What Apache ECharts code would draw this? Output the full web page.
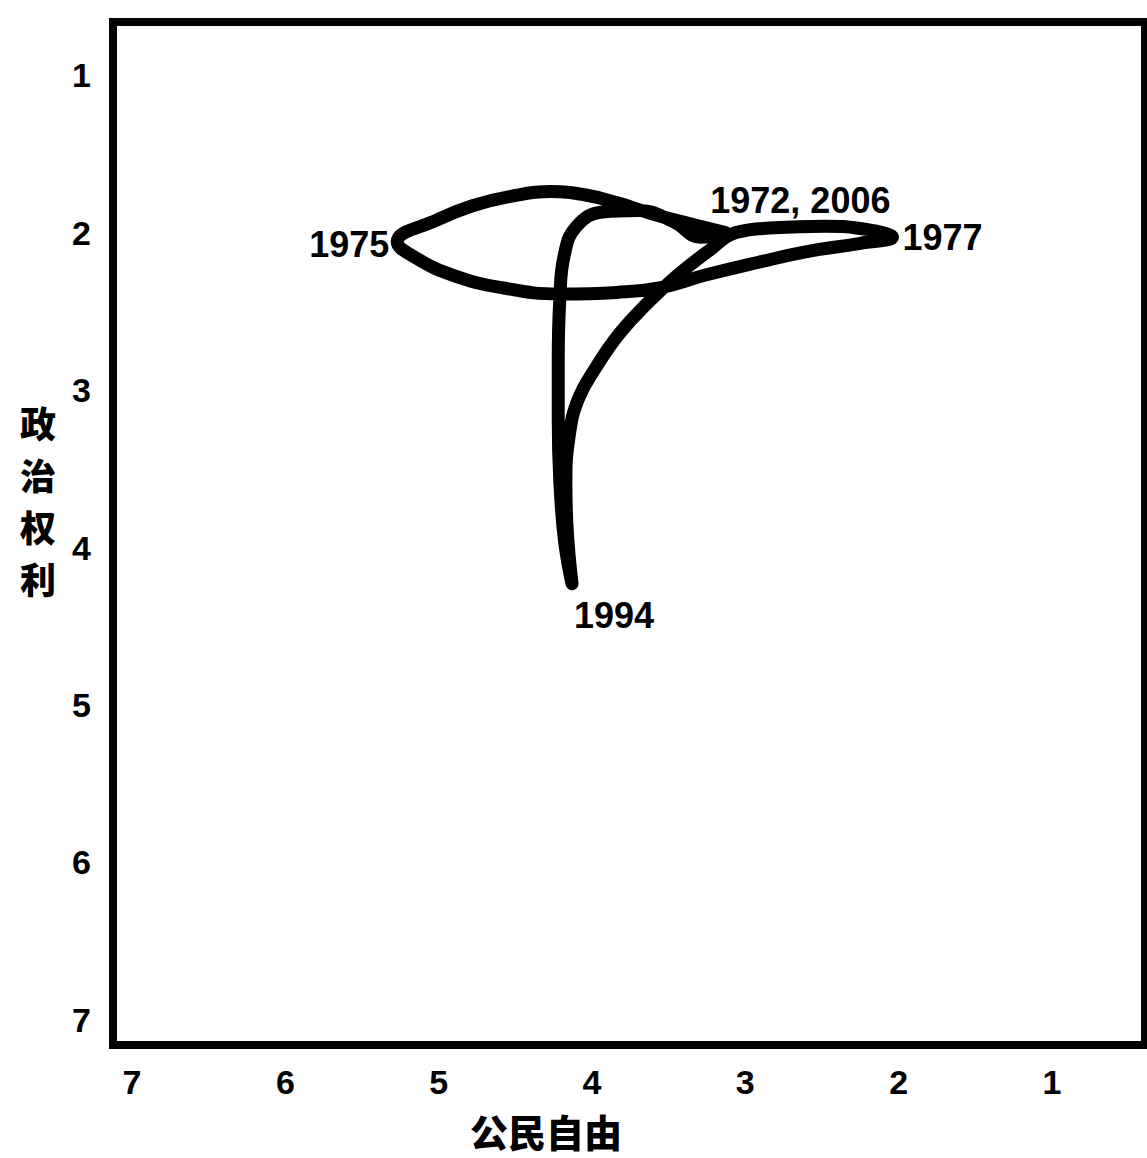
<!DOCTYPE html>
<html>
<head>
<meta charset="utf-8">
<script src="https://cdn.jsdelivr.net/npm/echarts@6/dist/echarts.min.js"></script>
<style>
html,body{margin:0;padding:0;background:#fff;}
#chart{width:1147px;height:1158px;}
</style>
</head>
<body>
<div id="chart"></div>
<script>
// Traced trajectory (civil liberties x, political rights y), in drawing order 1972 -> 2006
const civilLiberties = [
  3.13, 3.38, 3.61, 3.84, 4.05, 4.27, 4.53, 4.78, 5.01, 5.27,
  5.15, 4.91, 4.59, 4.21, 3.84, 3.55, 3.26, 2.92, 2.59, 2.26, 2.04,
  2.21, 2.48, 2.81, 3.06,
  3.23, 3.44, 3.64, 3.82, 3.97, 4.09, 4.15, 4.17, 4.16, 4.13,
  4.18, 4.21, 4.22, 4.22, 4.21, 4.18, 4.10, 3.93, 3.70, 3.47, 3.29, 3.13
];
const politicalRights = [
  2.00, 1.94, 1.88, 1.81, 1.76, 1.74, 1.77, 1.83, 1.92, 2.06,
  2.16, 2.27, 2.35, 2.39, 2.38, 2.35, 2.27, 2.19, 2.12, 2.07, 2.03,
  1.98, 1.96, 1.97, 2.00,
  2.11, 2.27, 2.45, 2.64, 2.85, 3.06, 3.30, 3.60, 3.91, 4.23,
  3.95, 3.57, 3.19, 2.81, 2.43, 2.14, 1.96, 1.87, 1.86, 1.93, 2.03, 2.00
];
// Annotated years and the index of the traced point they belong to
const yearLabels = ["1972, 2006", "1975", "1977", "1994"];
const yearIndex = [0, 9, 20, 34];
const tickValues = [1, 2, 3, 4, 5, 6, 7];
const xAxisTitle = "公民自由";
const yAxisTitle = "政治权利";

const lineData = civilLiberties.map((c, i) => [c, politicalRights[i]]);
const labelFont = {color: '#000', fontSize: 36, fontWeight: 'bold', fontFamily: 'Liberation Sans, Arial, sans-serif'};
const labelPos = [
  {position: 'top', distance: 14, offset: [75, 0]},
  {position: 'left', distance: 8, offset: [0, 2]},
  {position: 'right', distance: 10, offset: [0, 0]},
  {position: 'bottom', distance: 14, offset: [42, 0]}
];
const labelData = yearIndex.map((idx, k) => ({
  value: lineData[idx],
  label: Object.assign({show: true, formatter: yearLabels[k]}, labelFont, labelPos[k])
}));

const yTitleChars = yAxisTitle.split('').map((ch, i) => ({
  type: 'text', left: 20, top: 404 + i * 52,
  style: {text: ch, fill: '#000', fontSize: 36, fontWeight: 900, fontFamily: 'Noto Sans CJK SC'}
}));

const chart = echarts.init(document.getElementById('chart'), null, {renderer: 'svg'});
const tickFont = {color: '#000', fontSize: 34, fontWeight: 'bold', fontFamily: 'Liberation Sans, Arial, sans-serif'};
chart.setOption({
  animation: false,
  backgroundColor: '#fff',
  grid: {left: 113, right: 2, top: 22, bottom: 113, show: true, borderColor: '#000', borderWidth: 8, backgroundColor: 'transparent'},
  xAxis: {
    type: 'value', inverse: true, min: 0.393, max: 7.124,
    axisLine: {show: false}, axisTick: {show: false}, splitLine: {show: false},
    axisLabel: Object.assign({customValues: tickValues, margin: 20}, tickFont)
  },
  yAxis: {
    type: 'value', inverse: true, min: 0.663, max: 7.159,
    axisLine: {show: false}, axisTick: {show: false}, splitLine: {show: false},
    axisLabel: Object.assign({customValues: tickValues, margin: 22}, tickFont)
  },
  series: [
    {
      type: 'line', data: lineData, smooth: 0.45, showSymbol: false, symbol: 'none',
      lineStyle: {color: '#000', width: 13, cap: 'round', join: 'round'},
      z: 3
    },
    {
      type: 'scatter', data: labelData, symbolSize: 0,
      itemStyle: {color: '#000', opacity: 1},
      label: labelFont,
      z: 4
    }
  ],
  graphic: [
    {type: 'text', left: 470, top: 1111, style: {text: xAxisTitle, fill: '#000', fontSize: 38, fontWeight: 900, fontFamily: 'Noto Sans CJK SC'}}
  ].concat(yTitleChars)
});
</script>
</body>
</html>
